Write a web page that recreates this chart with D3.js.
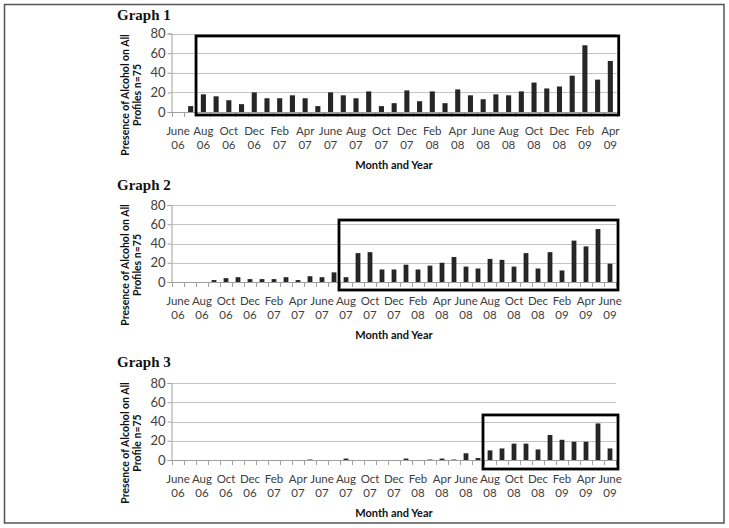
<!DOCTYPE html>
<html>
<head>
<meta charset="utf-8">
<script src="https://cdn.jsdelivr.net/npm/d3@7"></script>
<style>
  body { margin: 0; background: #fff; }
  svg { display: block; }
</style>
</head>
<body>
<svg id="chart" width="729" height="528"></svg>
<script>
// ---------- DATA ----------
const months = ["June 06","July 06","Aug 06","Sept 06","Oct 06","Nov 06","Dec 06",
  "Jan 07","Feb 07","Mar 07","Apr 07","May 07","June 07","July 07","Aug 07","Sept 07","Oct 07","Nov 07","Dec 07",
  "Jan 08","Feb 08","Mar 08","Apr 08","May 08","June 08","July 08","Aug 08","Sept 08","Oct 08","Nov 08","Dec 08",
  "Jan 09","Feb 09","Mar 09","Apr 09","May 09","June 09"];
const categories1 = months.slice(0, 35);   // June 06 .. Apr 09
const categories2 = months.slice(0, 37);   // June 06 .. June 09
const categories3 = months.slice(0, 37);

const values1 = [0,6,18,16,12,8,20, 14,14,17,14,6,20,17,14,21,6,9,22, 11,21,9,23,17,13,18,17,21,30,24,26, 37,68,33,52];
const values2 = [0,0,0,2,4,5,3, 3,3,5,2,6,5,10,5,30,31,13,13, 18,13,17,20,26,16,14,24,23,16,30,14, 31,12,43,37,55,19];
const values3 = [0,0,0,0,0,0,0, 0,0,0,0,0.5,0,0,1.5,0,0,0,0, 1.5,0,0.5,1.5,0.5,7,2,10,12,17,17,11, 26,21,19,19,38,12];

const tickLabels1 = categories1.filter((d, i) => i % 2 === 0);
const tickLabels2 = categories2.filter((d, i) => i % 2 === 0);
const tickLabels3 = categories3.filter((d, i) => i % 2 === 0);
const yTicks = [0, 20, 40, 60, 80];

const titles = ["Graph 1", "Graph 2", "Graph 3"];
const yTitles = [["Presence of Alcohol on All", "Profiles n=75"],
                 ["Presence of Alcohol on All", "Profiles n=75"],
                 ["Presence of Alcohol on All", "Profile n=75"]];
const xTitle = "Month and Year";
// highlighted period (first month, top value of box)
const boxStart = ["Aug 06", "Aug 07", "Aug 08"];
const boxTop = [77.5, 64.4, 46.8];

// ---------- LAYOUT ----------
const panels = [
  { cats: categories1, vals: values1, ticks: tickLabels1, y0: 112, y80: 33.5, x0: 171.6, x1: 616.7, titleY: 20, boxBottom: 3 },
  { cats: categories2, vals: values2, ticks: tickLabels2, y0: 282, y80: 205, x0: 172, x1: 616, titleY: 190, boxBottom: 8 },
  { cats: categories3, vals: values3, ticks: tickLabels3, y0: 460, y80: 383, x0: 172, x1: 616, titleY: 367, boxBottom: 9 }
];

const svg = d3.select("#chart");
const labelFont = "Lato, 'Open Sans', sans-serif";

// outer frame
svg.append("rect").attr("x", 4.5).attr("y", 4.5).attr("width", 719.5).attr("height", 518.5)
  .attr("fill", "none").attr("stroke", "#555").attr("stroke-width", 1.5);

panels.forEach((p, k) => {
  const g = svg.append("g");
  const x = d3.scaleBand().domain(p.cats).range([p.x0, p.x1]).paddingInner(0.6).paddingOuter(0.3);
  const xb = d3.scaleBand().domain(p.cats).range([p.x0, p.x1]);
  const y = d3.scaleLinear().domain([0, 80]).range([p.y0, p.y80]);

  // gridlines
  g.append("g").selectAll("line").data(yTicks.filter(v => v > 0)).join("line")
    .attr("x1", p.x0).attr("x2", p.x1)
    .attr("y1", d => Math.round(y(d)) + 0.5).attr("y2", d => Math.round(y(d)) + 0.5)
    .attr("stroke", "#c4c4c4").attr("stroke-width", 1);

  // y axis
  const yAxis = g.append("g").attr("transform", `translate(${Math.round(p.x0) - 0.5},0)`)
    .call(d3.axisLeft(y).tickValues(yTicks).tickSize(4).tickPadding(2));
  yAxis.select(".domain").attr("stroke", "#a0a0a0");
  yAxis.selectAll(".tick line").attr("stroke", "#a0a0a0");
  yAxis.selectAll(".tick text").attr("font-family", labelFont).attr("font-size", 13).attr("fill", "#404040");

  // x axis baseline + ticks at category boundaries
  const boundaries = p.cats.map(c => xb(c)).concat([p.x1]);
  g.append("line").attr("x1", p.x0).attr("x2", p.x1)
    .attr("y1", Math.round(p.y0) + 0.5).attr("y2", Math.round(p.y0) + 0.5)
    .attr("stroke", "#a0a0a0");
  g.append("g").selectAll("line").data(boundaries).join("line")
    .attr("x1", d => Math.round(d) + 0.5).attr("x2", d => Math.round(d) + 0.5)
    .attr("y1", Math.round(p.y0)).attr("y2", Math.round(p.y0) + 5)
    .attr("stroke", "#a0a0a0");

  // x tick labels (two lines)
  const lab = g.append("g").selectAll("text").data(p.ticks).join("text")
    .attr("x", d => xb(d) + xb.bandwidth() / 2)
    .attr("y", p.y0 + 23)
    .attr("text-anchor", "middle")
    .attr("font-family", labelFont).attr("font-size", 11.5).attr("fill", "#404040");
  lab.append("tspan").text(d => d.split(" ")[0]);
  lab.append("tspan").attr("x", d => xb(d) + xb.bandwidth() / 2).attr("dy", 13.5).text(d => d.split(" ")[1]);

  // bars
  g.append("g").selectAll("rect").data(p.cats.map((c, i) => ({ c, v: p.vals[i] })).filter(d => d.v > 0)).join("rect")
    .attr("x", d => x(d.c))
    .attr("width", x.bandwidth())
    .attr("y", d => y(d.v))
    .attr("height", d => y(0) - y(d.v))
    .attr("fill", "#262626");

  // highlight box
  const bx = xb(boxStart[k]) - 1;
  g.append("rect")
    .attr("x", bx).attr("y", y(boxTop[k]))
    .attr("width", p.x1 + 2 - bx)
    .attr("height", p.y0 + p.boxBottom - y(boxTop[k]))
    .attr("fill", "none").attr("stroke", "#000").attr("stroke-width", 2.8);

  // title
  g.append("text").attr("x", 117).attr("y", p.titleY)
    .attr("font-family", "'Liberation Serif', 'Times New Roman', serif")
    .attr("font-weight", "bold").attr("font-size", 15).attr("fill", "#111")
    .text(titles[k]);

  // x axis title
  g.append("text").attr("x", 394).attr("y", p.y0 + 57)
    .attr("text-anchor", "middle")
    .attr("font-family", labelFont).attr("font-weight", "bold").attr("font-size", 11).attr("fill", "#111")
    .text(xTitle);

  // y axis title (rotated, two lines)
  const cy = p.y0 - 17;
  const yt = g.append("text").attr("transform", `translate(129,${cy}) rotate(-90)`)
    .attr("text-anchor", "middle")
    .attr("font-family", labelFont).attr("font-weight", "bold").attr("font-size", 10.5).attr("fill", "#111");
  yt.append("tspan").attr("x", 0).attr("y", 0).text(yTitles[k][0]);
  yt.append("tspan").attr("x", 0).attr("y", 11.5).text(yTitles[k][1]);
});
</script>
</body>
</html>
